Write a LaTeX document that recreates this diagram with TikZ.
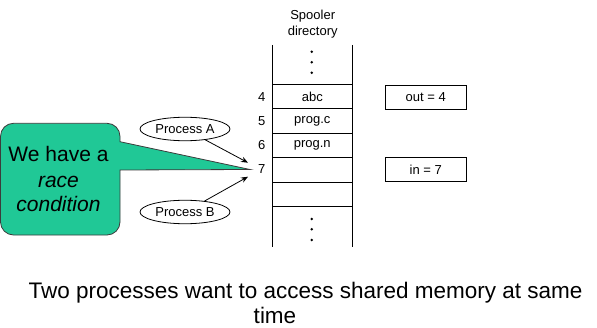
\documentclass[tikz,border=0pt]{standalone}
\usepackage{fontspec}
\setmainfont{Liberation Sans}
\usetikzlibrary{arrows.meta,shapes.geometric}
\definecolor{callgreen}{RGB}{32,200,150}
\definecolor{calledge}{RGB}{60,60,60}
\begin{document}
\begin{tikzpicture}[x=1pt,y=1pt,
  small/.style={font=\fontsize{13}{16.6}\selectfont},
  cell/.style={small, draw, line width=0.8pt, minimum width=80pt, minimum height=24.4pt, inner sep=0pt},
  num/.style={small, inner sep=0pt},
  valbox/.style={small, draw, line width=0.8pt, minimum width=81.7pt, minimum height=24pt, inner sep=0pt},
  proc/.style={small, ellipse, draw, line width=0.8pt, minimum width=90pt, minimum height=23.5pt, inner sep=0pt},
  arr/.style={-{Stealth[length=7pt,width=5.5pt]}, line width=0.8pt},
  vdot/.style={circle, fill, inner sep=0pt, minimum size=2.8pt},
  rail/.style={line width=0.8pt},
  big/.style={font=\fontsize{21}{25}\selectfont, inner sep=0pt, anchor=base},
  caption/.style={big, font=\fontsize{22.5}{26}\selectfont}]
\useasboundingbox (0,0) rectangle (597,327);

% spooler directory
\node[small, align=center] (spool) at (312.7,303) {Spooler\\directory};
\coordinate (lt) at (272.3,282);
\coordinate (lb) at (272.3,80);
\coordinate (rt) at (352.3,282);
\coordinate (rb) at (352.3,80);
\draw[rail] (lt) -- (lb);
\draw[rail] (rt) -- (rb);
\node[cell] (c4) at (312.3,230.35) {abc};
\node[cell] (c5) at (312.3,205.95) {prog.c};
\node[cell] (c6) at (312.3,181.55) {prog.n};
\node[cell] (c7) at (312.3,157.15) {};
\node[cell] (c8) at (312.3,132.75) {};

\node[vdot] (d1) at (311.7,275.3) {};
\node[vdot] (d2) at (311.7,264.7) {};
\node[vdot] (d3) at (311.7,254.3) {};
\node[vdot] (d4) at (311.7,108) {};
\node[vdot] (d5) at (311.7,97.7) {};
\node[vdot] (d6) at (311.7,87) {};

\node[num] (n4) at (261.7,230.3) {4};
\node[num] (n5) at (261.7,206) {5};
\node[num] (n6) at (261.7,181.8) {6};
\node[num] (n7) at (261.7,157.5) {7};

\node[valbox] (out) at (425.8,230) {out = 4};
\node[valbox] (in) at (425.8,157.15) {in = 7};

% processes
\node[proc] (pA) at (185,198) {Process A};
\node[proc] (pB) at (185,115) {Process B};
\coordinate (tipA) at (248,164.3);
\coordinate (tipB) at (248,150.3);
\draw[arr] (pA) -- (tipA);
\draw[arr] (pB) -- (tipB);

% callout
\coordinate (ctip) at (250,157.5);
\draw[fill=callgreen, draw=calledge, line width=0.8pt]
  (120,185.3) -- (ctip) -- (120,157) -- (120,105)
  arc[start angle=0, end angle=-90, radius=13] -- (13.5,92)
  arc[start angle=270, end angle=180, radius=13] -- (0.5,190.7)
  arc[start angle=180, end angle=90, radius=13] -- (107,203.7)
  arc[start angle=90, end angle=0, radius=13] -- cycle;
\node[big] (t1) at (58.5,165.3) {We have a};
\node[big] (t2) at (58.5,139.3) {\itshape race};
\node[big] (t3) at (58.5,115.3) {\itshape condition};

% caption
\node[caption] (cap1) at (305.5,28.7) {Two processes want to access shared memory at same};
\node[caption] (cap2) at (275,3.5) {time};
\end{tikzpicture}
\end{document}
